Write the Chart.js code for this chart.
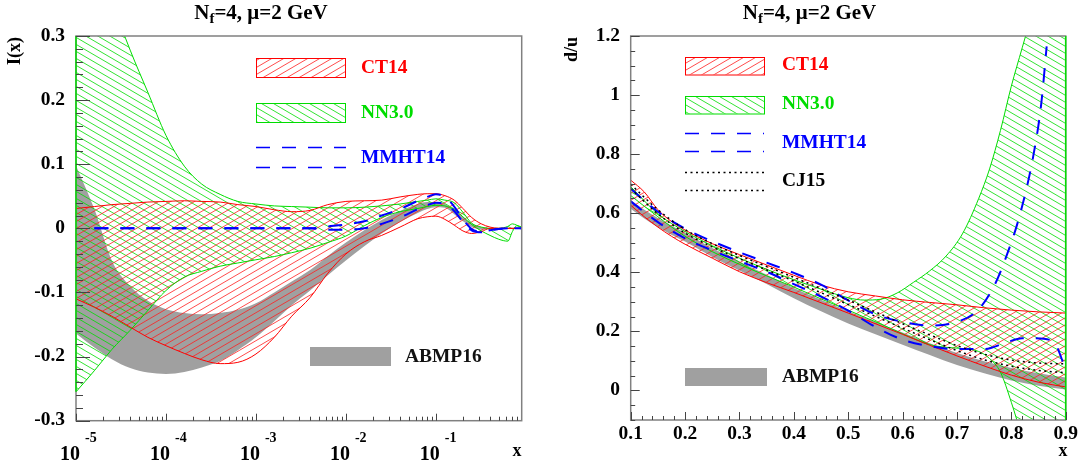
<!DOCTYPE html>
<html>
<head>
<meta charset="utf-8">
<script src="https://cdn.jsdelivr.net/npm/chart.js@4.4.1/dist/chart.umd.min.js"></script>
<style>
  html, body { margin: 0; padding: 0; background: #fff; }
  #page { position: relative; width: 1084px; height: 464px; overflow: hidden; }
  canvas { position: absolute; top: 0; }
</style>
</head>
<body>
<div id="page">
  <canvas id="leftChart" width="542" height="464" style="left:0"></canvas>
  <canvas id="rightChart" width="542" height="464" style="left:542px"></canvas>
</div>
<script>
// ---------- left panel: I(x) against x (log scale) ----------
const xLeft = [1e-5, 1.6e-5, 2.5e-5, 4e-5, 6.3e-5, 1e-4, 1.6e-4, 2.5e-4, 4e-4, 6.3e-4,
  1e-3, 1.6e-3, 2.5e-3, 4e-3, 6.3e-3, 0.01, 0.016, 0.025, 0.04, 0.063,
  0.08, 0.1, 0.126, 0.16, 0.2, 0.25, 0.32, 0.4, 0.5, 0.63, 0.71, 0.79, 0.9];
const ct14UpL = [0.031, 0.034, 0.037, 0.039, 0.041, 0.042, 0.043, 0.042, 0.041, 0.037,
  0.034, 0.029, 0.026, 0.028, 0.037, 0.042, 0.043, 0.044, 0.049, 0.053,
  0.054, 0.054, 0.051, 0.044, 0.031, 0.017, 0.007, 0.002, 0, 0, 0, 0, 0];
const ct14LoL = [-0.110, -0.123, -0.137, -0.154, -0.170, -0.183, -0.195, -0.205, -0.211, -0.209,
  -0.196, -0.170, -0.137, -0.108, -0.070, -0.040, -0.021, -0.011, 0.002, 0.015,
  0.018, 0.019, 0.014, 0.005, -0.004, -0.008, -0.005, 0, 0, 0, 0, 0, 0];
const nnUpL = [0.50, 0.44, 0.355, 0.278, 0.212, 0.145, 0.097, 0.069, 0.053, 0.042,
  0.038, 0.035, 0.034, 0.033, 0.032, 0.032, 0.033, 0.035, 0.038, 0.042,
  0.044, 0.046, 0.044, 0.040, 0.025, 0.008, 0.002, 0, 0, 0.003, 0.007, 0.005, 0.002];
const nnLoL = [-0.255, -0.222, -0.189, -0.159, -0.128, -0.097, -0.076, -0.067, -0.059, -0.054,
  -0.049, -0.044, -0.038, -0.031, -0.022, -0.012, 0.004, 0.017, 0.026, 0.031,
  0.034, 0.036, 0.035, 0.029, 0.018, 0.006, -0.004, -0.011, -0.017, -0.020, -0.005, 0.004, 0.001];
const mmhtUpL = [null, 0, 0, 0, 0, 0, 0, 0, 0, 0,
  0, 0, 0, 0, 0.003, 0.006, 0.011, 0.020, 0.030, 0.043,
  0.049, 0.053, 0.049, 0.034, 0.014, -0.001, -0.005, -0.003, -0.001, 0, 0, 0, 0];
const mmhtLoL = [null, 0, 0, 0, 0, 0, 0, 0, 0, 0,
  0, 0, 0, 0, -0.002, -0.002, 0, 0.007, 0.017, 0.030,
  0.036, 0.040, 0.038, 0.027, 0.010, -0.003, -0.006, -0.003, -0.001, 0, 0, 0, 0];
const abmpUpL = [0.098, 0.030, -0.050, -0.090, -0.113, -0.126, -0.132, -0.134, -0.132, -0.127,
  -0.117, -0.100, -0.083, -0.065, -0.043, -0.022, -0.003, 0.013, 0.027, 0.038,
  0.041, 0.041, 0.038, 0.029, 0.018, 0.008, 0.002, 0, 0, 0, 0, 0, 0];
const abmpLoL = [-0.164, -0.186, -0.204, -0.218, -0.225, -0.227, -0.224, -0.217, -0.207, -0.190,
  -0.170, -0.145, -0.120, -0.097, -0.073, -0.050, -0.028, -0.008, 0.010, 0.024,
  0.030, 0.033, 0.032, 0.022, 0.011, 0.002, -0.002, -0.001, 0, 0, 0, 0, 0];

// ---------- right panel: d/u against x ----------
const xRight = [0.1, 0.125, 0.15, 0.175, 0.2, 0.25, 0.3, 0.35, 0.4, 0.45,
  0.5, 0.55, 0.6, 0.65, 0.7, 0.75, 0.8, 0.85, 0.9];
const ct14UpR = [0.712, 0.672, 0.612, 0.572, 0.543, 0.497, 0.460, 0.425, 0.390, 0.357,
  0.334, 0.320, 0.307, 0.298, 0.290, 0.280, 0.272, 0.266, 0.262];
const ct14LoR = [0.627, 0.588, 0.553, 0.522, 0.495, 0.448, 0.402, 0.365, 0.332, 0.297,
  0.262, 0.226, 0.190, 0.153, 0.117, 0.083, 0.052, 0.028, 0.012];
const abmpUpR = [0.645, 0.612, 0.584, 0.558, 0.534, 0.482, 0.437, 0.392, 0.347, 0.307,
  0.268, 0.232, 0.196, 0.160, 0.127, 0.099, 0.076, 0.058, 0.044];
const abmpLoR = [0.615, 0.582, 0.553, 0.527, 0.504, 0.452, 0.406, 0.360, 0.312, 0.268,
  0.227, 0.190, 0.155, 0.120, 0.086, 0.058, 0.034, 0.016, 0.003];
const xNN = [0.1, 0.15, 0.2, 0.25, 0.3, 0.35, 0.4, 0.45, 0.5, 0.53, 0.56, 0.59,
  0.62, 0.65, 0.68, 0.71, 0.74, 0.76, 0.78, 0.80, 0.82, 0.84, 0.87, 0.9];
const nnUpR = [0.690, 0.598, 0.538, 0.490, 0.448, 0.410, 0.375, 0.343, 0.314, 0.306, 0.309, 0.330,
  0.366, 0.405, 0.455, 0.530, 0.650, 0.750, 0.880, 1.030, 1.160, 1.290, 1.500, 1.750];
const nnLoR = [0.660, 0.588, 0.522, 0.470, 0.427, 0.388, 0.350, 0.310, 0.272, 0.248, 0.225, 0.200,
  0.176, 0.155, 0.146, 0.142, 0.132, 0.108, 0.062, -0.040, -0.160, -0.280, -0.450, -0.600];
const xMmhtUpR = [0.1, 0.15, 0.2, 0.25, 0.3, 0.35, 0.4, 0.45, 0.5, 0.55,
  0.6, 0.65, 0.7, 0.74, 0.77, 0.79, 0.815, 0.84, 0.855, 0.865];
const mmhtUpR = [0.683, 0.605, 0.548, 0.505, 0.468, 0.433, 0.398, 0.358, 0.305, 0.258,
  0.232, 0.220, 0.232, 0.275, 0.360, 0.450, 0.590, 0.790, 0.970, 1.165];
const xMmhtLoR = [0.1, 0.15, 0.2, 0.25, 0.3, 0.35, 0.4, 0.45, 0.5, 0.55,
  0.6, 0.65, 0.7, 0.75, 0.79, 0.82, 0.86, 0.883, 0.895, 0.9];
const mmhtLoR = [0.640, 0.570, 0.515, 0.474, 0.438, 0.402, 0.360, 0.318, 0.270, 0.215,
  0.172, 0.150, 0.140, 0.140, 0.162, 0.177, 0.175, 0.150, 0.095, 0.070];
const xCJ = [0.1, 0.15, 0.2, 0.25, 0.3, 0.35, 0.4, 0.45, 0.5, 0.55, 0.6, 0.65, 0.7, 0.75, 0.8, 0.85, 0.9];
const cj15UpR = [0.698, 0.612, 0.545, 0.497, 0.457, 0.420, 0.383, 0.345, 0.306, 0.266, 0.226, 0.188, 0.152, 0.123, 0.103, 0.093, 0.090];
const cj15LoR = [0.683, 0.598, 0.533, 0.486, 0.446, 0.408, 0.370, 0.331, 0.291, 0.251, 0.211, 0.172, 0.135, 0.104, 0.082, 0.068, 0.060];

// ---------- tick labels ----------
const yTicksL = [-0.3, -0.2, -0.1, 0, 0.1, 0.2, 0.3];
const yLabelsL = ['-0.3', '-0.2', '-0.1', '0', '0.1', '0.2', '0.3'];
const xDecadesL = [1e-5, 1e-4, 1e-3, 1e-2, 1e-1];
const xExpL = ['-5', '-4', '-3', '-2', '-1'];
const yTicksR = [0, 0.2, 0.4, 0.6, 0.8, 1, 1.2];
const yLabelsR = ['0', '0.2', '0.4', '0.6', '0.8', '1', '1.2'];
const xTicksR = [0.1, 0.2, 0.3, 0.4, 0.5, 0.6, 0.7, 0.8, 0.9];
const xLabelsR = ['0.1', '0.2', '0.3', '0.4', '0.5', '0.6', '0.7', '0.8', '0.9'];

const SERIF = '"Liberation Serif", "Times New Roman", serif';
const RED = '#ff0000', GREEN = '#00dd00', BLUE = '#0000ff', GREY = '#a0a0a0';

function pts(xs, ys) { return xs.map((x, i) => ({ x: x, y: ys[i] })); }

// diagonal hatch tile, rising "/" or falling "\"
function hatch(ctx, color, rising) {
  const w = 12, h = 7;
  const c = document.createElement('canvas');
  c.width = w; c.height = h;
  const g = c.getContext('2d');
  g.strokeStyle = color; g.lineWidth = 1;
  [[-w, 0], [0, 0], [w, 0], [0, -h], [0, h]].forEach(([dx, dy]) => {
    g.beginPath();
    if (rising) { g.moveTo(dx, dy + h); g.lineTo(dx + w, dy); }
    else { g.moveTo(dx, dy); g.lineTo(dx + w, dy + h); }
    g.stroke();
  });
  return ctx.createPattern(c, 'repeat');
}

function txt(ctx, s, x, y, size, color, align, sx) {
  sx = sx || 1;
  ctx.save();
  ctx.font = 'bold ' + size + 'px ' + SERIF;
  ctx.fillStyle = color;
  ctx.textBaseline = 'middle';
  ctx.textAlign = 'left';
  const w = ctx.measureText(s).width * sx;
  const x0 = align === 'right' ? x - w : align === 'center' ? x - w / 2 : x;
  ctx.translate(x0, y);
  ctx.scale(sx, 1);
  ctx.fillText(s, 0, 0);
  ctx.restore();
}

function title(ctx, cx, base) {
  ctx.save();
  ctx.fillStyle = '#000';
  ctx.textBaseline = 'alphabetic';
  ctx.textAlign = 'left';
  const big = 'bold 21px ' + SERIF, small = 'bold 15px ' + SERIF;
  const rest = '=4, \u03bc=2 GeV';
  ctx.font = big;
  const wN = ctx.measureText('N').width, wR = ctx.measureText(rest).width;
  ctx.font = small;
  const wf = ctx.measureText('f').width;
  const x0 = cx - (wN + wf + wR) / 2;
  ctx.font = big; ctx.fillText('N', x0, base);
  ctx.font = small; ctx.fillText('f', x0 + wN, base + 4);
  ctx.font = big; ctx.fillText(rest, x0 + wN + wf, base);
  ctx.restore();
}

function vtitle(ctx, s, x, yTop) {
  ctx.save();
  ctx.translate(x, yTop);
  ctx.rotate(-Math.PI / 2);
  ctx.font = 'bold 18px ' + SERIF;
  ctx.fillStyle = '#000';
  ctx.textAlign = 'right';
  ctx.textBaseline = 'middle';
  ctx.fillText(s, 0, 0);
  ctx.restore();
}

function seg(ctx, x1, y1, x2, y2) {
  ctx.beginPath(); ctx.moveTo(x1, y1); ctx.lineTo(x2, y2); ctx.stroke();
}

function legBox(ctx, x, y, w, h, fill, edge) {
  ctx.save();
  ctx.fillStyle = fill;
  ctx.fillRect(x, y, w, h);
  if (edge) { ctx.strokeStyle = edge; ctx.lineWidth = 1; ctx.strokeRect(x + 0.5, y + 0.5, w, h); }
  ctx.restore();
}

function legLine(ctx, x1, x2, y, color, dash, width) {
  ctx.save();
  ctx.strokeStyle = color; ctx.lineWidth = width; ctx.setLineDash(dash);
  seg(ctx, x1, y, x2, y);
  ctx.restore();
}

const leftCtx = document.getElementById('leftChart').getContext('2d');
const rightCtx = document.getElementById('rightChart').getContext('2d');
const redHatchL = hatch(leftCtx, 'rgba(255,30,30,0.8)', true);
const greenHatchL = hatch(leftCtx, 'rgba(0,220,0,0.8)', false);
const redHatchR = hatch(rightCtx, 'rgba(255,30,30,0.8)', true);
const greenHatchR = hatch(rightCtx, 'rgba(0,220,0,0.8)', false);

const common = {
  responsive: false,
  animation: false,
  events: [],
  elements: { point: { radius: 0 }, line: { cubicInterpolationMode: 'monotone' } },
  plugins: { legend: { display: false }, tooltip: { enabled: false }, filler: { drawTime: 'beforeDatasetsDraw' } }
};

// ---------- left chart ----------
const leftDecor = {
  id: 'leftDecor',
  afterDraw(chart) {
    const { ctx, chartArea: a } = chart;
    const sx = chart.scales.x, sy = chart.scales.y;
    ctx.save();
    ctx.strokeStyle = '#808080'; ctx.lineWidth = 1.5;
    ctx.strokeRect(a.left, a.top, a.right - a.left, a.bottom - a.top);
    ctx.strokeStyle = GREEN; ctx.lineWidth = 1.5;
    const ex = sx.getPixelForValue(xLeft[0]);
    seg(ctx, ex, Math.max(a.top, sy.getPixelForValue(nnUpL[0])), ex, sy.getPixelForValue(nnLoL[0]));
    ctx.strokeStyle = '#444'; ctx.lineWidth = 1;
    for (let i = -15; i <= 15; i++) {
      const py = Math.round(sy.getPixelForValue(i * 0.02)) + 0.5;
      seg(ctx, a.left, py, a.left + (i % 5 === 0 ? 14 : 7), py);
    }
    for (let d = -5; d <= -1; d++) {
      for (let m = 1; m <= 9; m++) {
        const v = m * Math.pow(10, d);
        if (v > 0.899) break;
        const px = Math.round(sx.getPixelForValue(v)) + 0.5;
        seg(ctx, px, a.bottom, px, a.bottom - (m === 1 ? 7 : 4));
      }
    }
    ctx.restore();
    yTicksL.forEach((v, i) => txt(ctx, yLabelsL[i], 65, sy.getPixelForValue(v), 18, '#000', 'right', 1.08));
    xDecadesL.forEach((v, i) => {
      const px = sx.getPixelForValue(v);
      txt(ctx, '10', px - 6, 455, 20, '#000', 'center');
      txt(ctx, xExpL[i], px + 9, 438, 14, '#000', 'left');
    });
    txt(ctx, 'x', 517, 451, 18, '#000', 'center');
    vtitle(ctx, 'I(x)', 15.5, 37);
    title(ctx, 261, 18.5);
    // legend
    legBox(ctx, 256, 58, 89, 19, redHatchL, RED);
    txt(ctx, 'CT14', 361, 68, 18, RED, 'left', 1.08);
    legBox(ctx, 256, 103, 89, 19, greenHatchL, GREEN);
    txt(ctx, 'NN3.0', 361, 113, 18, GREEN, 'left', 1.08);
    legLine(ctx, 256, 346, 147.5, BLUE, [14, 12], 1.3);
    legLine(ctx, 256, 346, 167.5, BLUE, [14, 12], 1.3);
    txt(ctx, 'MMHT14', 361, 158, 18, BLUE, 'left', 1.08);
    legBox(ctx, 310, 347, 81, 19, GREY, null);
    txt(ctx, 'ABMP16', 405, 357, 18, '#111', 'left', 1.08);
  }
};

new Chart(leftCtx, {
  type: 'line',
  data: {
    datasets: [
      { label: 'MMHT14', data: pts(xLeft, mmhtUpL), borderColor: BLUE, borderWidth: 2, borderDash: [14, 12], fill: false, order: 1 },
      { label: 'MMHT14 low', data: pts(xLeft, mmhtLoL), borderColor: BLUE, borderWidth: 2, borderDash: [14, 12], fill: false, order: 1 },
      { label: 'CT14', data: pts(xLeft, ct14UpL), borderColor: RED, borderWidth: 1, backgroundColor: redHatchL, fill: '+1', order: 2 },
      { label: 'CT14 low', data: pts(xLeft, ct14LoL), borderColor: RED, borderWidth: 1, fill: false, order: 2 },
      { label: 'NN3.0', data: pts(xLeft, nnUpL), borderColor: GREEN, borderWidth: 1, backgroundColor: greenHatchL, fill: '+1', order: 3 },
      { label: 'NN3.0 low', data: pts(xLeft, nnLoL), borderColor: GREEN, borderWidth: 1, fill: false, order: 3 },
      { label: 'ABMP16', data: pts(xLeft, abmpUpL), borderColor: 'rgba(0,0,0,0)', borderWidth: 0, backgroundColor: GREY, fill: '+1', order: 5 },
      { label: 'ABMP16 low', data: pts(xLeft, abmpLoL), borderColor: 'rgba(0,0,0,0)', borderWidth: 0, fill: false, order: 5 }
    ]
  },
  options: Object.assign({}, common, {
    layout: { padding: { left: 76, right: 20.3, top: 36, bottom: 43.3 } },
    scales: {
      x: { type: 'logarithmic', min: 1e-5, max: 0.9, display: false },
      y: { type: 'linear', min: -0.3, max: 0.3, display: false }
    }
  }),
  plugins: [leftDecor]
});

// ---------- right chart ----------
const rightDecor = {
  id: 'rightDecor',
  afterDraw(chart) {
    const { ctx, chartArea: a } = chart;
    const sx = chart.scales.x, sy = chart.scales.y;
    ctx.save();
    ctx.strokeStyle = '#808080'; ctx.lineWidth = 1.5;
    ctx.strokeRect(a.left, a.top, a.right - a.left, a.bottom - a.top);
    ctx.strokeStyle = GREEN; ctx.lineWidth = 1.5;
    const ex = sx.getPixelForValue(xNN[xNN.length - 1]);
    seg(ctx, ex, a.top, ex, a.bottom);
    ctx.strokeStyle = '#444'; ctx.lineWidth = 1;
    for (let i = -2; i <= 24; i++) {
      const py = Math.round(sy.getPixelForValue(i * 0.05)) + 0.5;
      seg(ctx, a.left, py, a.left + (i % 4 === 0 ? 9 : 4.5), py);
    }
    for (let i = 5; i <= 45; i++) {
      const px = Math.round(sx.getPixelForValue(i * 0.02)) + 0.5;
      seg(ctx, px, a.bottom, px, a.bottom - (i % 5 === 0 ? 8 : 4));
    }
    ctx.restore();
    yTicksR.forEach((v, i) => txt(ctx, yLabelsR[i], 78, sy.getPixelForValue(v), 18, '#000', 'right', 1.08));
    xTicksR.forEach((v, i) => txt(ctx, xLabelsR[i], sx.getPixelForValue(v), 434, 18, '#000', 'center', 1.08));
    txt(ctx, 'x', 521, 451, 18, '#000', 'center');
    vtitle(ctx, 'd/u', 30, 37);
    title(ctx, 267.5, 18.5);
    // legend
    legBox(ctx, 143, 57, 79, 17.5, redHatchR, RED);
    txt(ctx, 'CT14', 240, 65.5, 18, RED, 'left', 1.08);
    legBox(ctx, 143, 96, 79, 17.5, greenHatchR, GREEN);
    txt(ctx, 'NN3.0', 240, 104.5, 18, GREEN, 'left', 1.08);
    legLine(ctx, 143, 222, 133.5, BLUE, [14, 12], 1.3);
    legLine(ctx, 143, 222, 151.5, BLUE, [14, 12], 1.3);
    txt(ctx, 'MMHT14', 240, 143.5, 18, BLUE, 'left', 1.08);
    legLine(ctx, 143, 222, 172.5, '#000', [2, 3.5], 1.5);
    legLine(ctx, 143, 222, 190.5, '#000', [2, 3.5], 1.5);
    txt(ctx, 'CJ15', 240, 181.5, 18, '#000', 'left', 1.08);
    legBox(ctx, 143, 368, 82, 18, GREY, null);
    txt(ctx, 'ABMP16', 240, 377, 18, '#111', 'left', 1.08);
  }
};

new Chart(rightCtx, {
  type: 'line',
  data: {
    datasets: [
      { label: 'CJ15', data: pts(xCJ, cj15UpR), borderColor: '#000', borderWidth: 1.5, borderDash: [2, 3.5], fill: false, order: 0 },
      { label: 'CJ15 low', data: pts(xCJ, cj15LoR), borderColor: '#000', borderWidth: 1.5, borderDash: [2, 3.5], fill: false, order: 0 },
      { label: 'MMHT14', data: pts(xMmhtUpR, mmhtUpR), borderColor: BLUE, borderWidth: 2, borderDash: [14, 12], fill: false, order: 1 },
      { label: 'MMHT14 low', data: pts(xMmhtLoR, mmhtLoR), borderColor: BLUE, borderWidth: 2, borderDash: [14, 12], fill: false, order: 1 },
      { label: 'CT14', data: pts(xRight, ct14UpR), borderColor: RED, borderWidth: 1, backgroundColor: redHatchR, fill: '+1', order: 2 },
      { label: 'CT14 low', data: pts(xRight, ct14LoR), borderColor: RED, borderWidth: 1, fill: false, order: 2 },
      { label: 'NN3.0', data: pts(xNN, nnUpR), borderColor: GREEN, borderWidth: 1, backgroundColor: greenHatchR, fill: '+1', order: 3 },
      { label: 'NN3.0 low', data: pts(xNN, nnLoR), borderColor: GREEN, borderWidth: 1, fill: false, order: 3 },
      { label: 'ABMP16', data: pts(xRight, abmpUpR), borderColor: 'rgba(0,0,0,0)', borderWidth: 0, backgroundColor: GREY, fill: '+1', order: 5 },
      { label: 'ABMP16 low', data: pts(xRight, abmpLoR), borderColor: 'rgba(0,0,0,0)', borderWidth: 0, fill: false, order: 5 }
    ]
  },
  options: Object.assign({}, common, {
    layout: { padding: { left: 88.7, right: 18.3, top: 36, bottom: 44 } },
    scales: {
      x: { type: 'linear', min: 0.1, max: 0.9, display: false },
      y: { type: 'linear', min: -0.1, max: 1.2, display: false }
    }
  }),
  plugins: [rightDecor]
});
</script>
</body>
</html>
